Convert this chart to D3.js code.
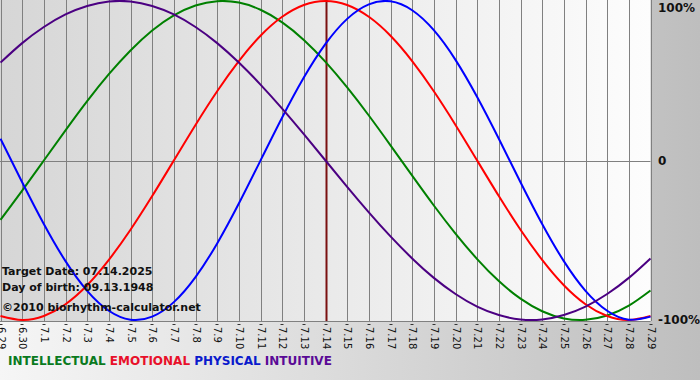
<!DOCTYPE html>
<html><head><meta charset="utf-8">
<script src="https://cdn.jsdelivr.net/npm/d3@7/dist/d3.min.js"></script>
<style>html,body{margin:0;padding:0;overflow:hidden;}svg{display:block;}</style>
</head><body>
<svg id="chart" width="700" height="380"></svg>
<script>
const days = ["6.29","6.30","7.1","7.2","7.3","7.4","7.5","7.6","7.7","7.8","7.9","7.10","7.11","7.12","7.13","7.14","7.15","7.16","7.17","7.18","7.19","7.20","7.21","7.22","7.23","7.24","7.25","7.26","7.27","7.28","7.29"];
const physical = [0.136,-0.136,-0.398,-0.631,-0.817,-0.942,-0.998,-0.979,-0.888,-0.731,-0.520,-0.270,0,0.270,0.520,0.731,0.888,0.979,0.998,0.942,0.817,0.631,0.398,0.136,-0.136,-0.398,-0.631,-0.817,-0.942,-0.998,-0.979];
const emotional = [-0.975,-1,-0.975,-0.901,-0.782,-0.623,-0.434,-0.223,0,0.223,0.434,0.623,0.782,0.901,0.975,1,0.975,0.901,0.782,0.623,0.434,0.223,0,-0.223,-0.434,-0.623,-0.782,-0.901,-0.975,-1,-0.975];
const intellectual = [-0.372,-0.189,0,0.189,0.372,0.541,0.690,0.815,0.910,0.972,0.999,0.990,0.945,0.866,0.756,0.618,0.458,0.282,0.095,-0.095,-0.282,-0.458,-0.618,-0.756,-0.866,-0.945,-0.990,-0.999,-0.972,-0.910,-0.815];
const intuitive = [0.614,0.736,0.837,0.916,0.969,0.997,0.997,0.969,0.916,0.837,0.736,0.614,0.476,0.325,0.165,0,-0.165,-0.325,-0.476,-0.614,-0.736,-0.837,-0.916,-0.969,-0.997,-0.997,-0.969,-0.916,-0.837,-0.736,-0.614];
const yTicks = [1, 0, -1];
const yTickLabels = ["100%", "0", "-100%"];
const targetDay = "7.14";
const legendNames = ["INTELLECTUAL","EMOTIONAL","PHYSICAL","INTUITIVE"];
const infoLines = ["Target Date: 07.14.2025","Day of birth: 09.13.1948","©2010 biorhythm-calculator.net"];

const seriesList = [
  {name:"INTELLECTUAL", values: intellectual, color:"#008000"},
  {name:"EMOTIONAL", values: emotional, color:"#ff0000"},
  {name:"PHYSICAL", values: physical, color:"#0000ff"},
  {name:"INTUITIVE", values: intuitive, color:"#4b0082"}
];
const legendColors = {"INTELLECTUAL":"#0a7a1e","EMOTIONAL":"#e8102a","PHYSICAL":"#0a1acc","INTUITIVE":"#5a0a96"};

const svg = d3.select("#chart");
const W = 700, H = 380;
const pLeft = 0.5, pRight = 650.5, pTop = 1, pBottom = 320;
const FONT = "DejaVu Sans, Verdana, sans-serif";

const defs = svg.append("defs");
const bgGrad = defs.append("linearGradient").attr("id","bg").attr("x1","0").attr("x2","1").attr("y1","0").attr("y2","0");
bgGrad.append("stop").attr("offset","0").attr("stop-color","#f6f6f6");
bgGrad.append("stop").attr("offset","1").attr("stop-color","#bebebe");
const plotGrad = defs.append("linearGradient").attr("id","plotbg").attr("x1","0").attr("x2","1").attr("y1","0").attr("y2","0");
plotGrad.append("stop").attr("offset","0").attr("stop-color","#d6d6d6");
plotGrad.append("stop").attr("offset","1").attr("stop-color","#fdfdfd");

svg.append("rect").attr("width",W).attr("height",H).attr("fill","url(#bg)");

const x = d3.scalePoint().domain(days).range([pLeft, pRight]);
const y = d3.scaleLinear().domain([-1, 1]).range([pBottom, pTop]);

svg.append("rect").attr("x",0).attr("y",0).attr("width",pRight).attr("height",y(-1)+1).attr("fill","url(#plotbg)");

// vertical gridlines
svg.append("g").selectAll("line").data(days).join("line")
  .attr("x1", d => Math.round(x(d)) + 0.5).attr("x2", d => Math.round(x(d)) + 0.5)
  .attr("y1", 0).attr("y2", y(-1) + 1)
  .attr("stroke", "#808080").attr("stroke-width", 1);

// zero line and bottom axis
svg.append("line").attr("x1",0).attr("x2",pRight).attr("y1",Math.round(y(0))+0.5).attr("y2",Math.round(y(0))+0.5).attr("stroke","#808080");
svg.append("line").attr("x1",0).attr("x2",pRight).attr("y1",Math.round(y(-1))+1.5).attr("y2",Math.round(y(-1))+1.5).attr("stroke","#808080");

// target marker
svg.append("line").attr("x1",Math.round(x(targetDay))+0.5).attr("x2",Math.round(x(targetDay))+0.5)
  .attr("y1",0).attr("y2",y(-1)+1).attr("stroke","#7a1010").attr("stroke-width",2);

// curves
const line = d3.line().x((d,i) => x(days[i])).y(d => y(d)).curve(d3.curveNatural);
const clip = defs.append("clipPath").attr("id","plotclip");
clip.append("rect").attr("x",0).attr("y",0).attr("width",pRight+1).attr("height",y(-1)+2);
svg.append("g").attr("clip-path","url(#plotclip)").selectAll("path").data(seriesList).join("path")
  .attr("d", s => line(s.values)).attr("fill","none").attr("stroke", s => s.color).attr("stroke-width", 2);

// y labels
svg.append("g").selectAll("text").data(yTicks).join("text")
  .attr("x", 658).attr("y", d => Math.max(y(d), 8)).attr("dy","0.35em")
  .attr("font-family",FONT).attr("font-weight","bold").attr("font-size",12)
  .attr("fill","#111")
  .text((d,i) => yTickLabels[i]);

// x tick dashes and labels
svg.append("g").selectAll("line").data(days).join("line")
  .attr("x1", d => Math.round(x(d)) - 1.5).attr("x2", d => Math.round(x(d)) + 1.5)
  .attr("y1", y(-1) + 4.5).attr("y2", y(-1) + 4.5)
  .attr("stroke","#333").attr("stroke-width",1);
const xt = svg.append("g").selectAll("g").data(days).join("g")
  .attr("transform", d => `translate(${Math.round(x(d))+0.5},${y(-1)+7}) rotate(90)`);
xt.append("text").attr("x",0).attr("y",0).attr("dy","0.35em")
  .attr("font-family",FONT).attr("font-size",10).attr("fill","#111")
  .text(d => d);

// info text
svg.append("g").selectAll("text").data(infoLines).join("text")
  .attr("x",2).attr("y",(d,i) => [275,291,311][i])
  .attr("font-family",FONT).attr("font-weight","bold").attr("font-size",11)
  .attr("fill","#111").text(d => d);

// legend
const lg = svg.append("text").attr("x",8).attr("y",365)
  .attr("font-family",FONT).attr("font-weight","bold").attr("font-size",12);
legendNames.forEach((n,i) => {
  lg.append("tspan").attr("fill", legendColors[n]).text((i ? " " : "") + n);
});
</script>
</body></html>
